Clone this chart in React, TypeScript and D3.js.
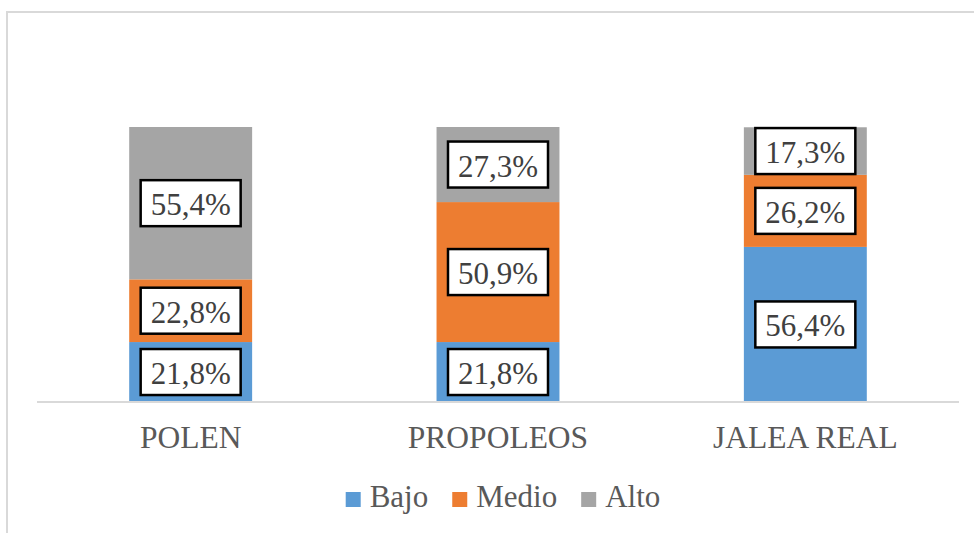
import React from "react";
import * as d3 from "d3";

const categories = ["POLEN", "PROPOLEOS", "JALEA REAL"];
const seriesNames = ["Bajo", "Medio", "Alto"];
const bajo = [21.8, 21.8, 56.4];
const medio = [22.8, 50.9, 26.2];
const alto = [55.4, 27.3, 17.3];
const colors = ["#5b9bd5", "#ed7d31", "#a5a5a5"];

const W = 974;
const H = 533;
const FONT = "Liberation Serif, Times New Roman, serif";

function measure(text: string, size: number): number {
  const c = document.createElement("canvas").getContext("2d");
  if (!c) return text.length * size * 0.5;
  c.font = `${size}px "Liberation Serif", serif`;
  return c.measureText(text).width;
}

export default function App() {
  const rows = categories.map((c, i) => ({ cat: c, Bajo: bajo[i], Medio: medio[i], Alto: alto[i] }));
  const stack = d3.stack<any>().keys(seriesNames)(rows);

  const x = d3.scaleBand().domain(categories).range([37, 959]).paddingInner(0.6).paddingOuter(0.3);
  const y = d3.scaleLinear().domain([0, 100]).range([402, 127]);

  const boxW = 100;
  const boxH = 46;

  const legSize = 31;
  const sq = 15;
  const items = seriesNames.map((n) => ({ n, w: measure(n, legSize) }));
  const total = items.reduce((a, it) => a + sq + 9 + it.w, 0) + 24 * (items.length - 1);
  let lx = 503 - total / 2;
  const legend = items.map((it, i) => {
    const start = lx;
    lx += sq + 9 + it.w + 24;
    return { ...it, x: start, color: colors[i] };
  });

  const textStyle = { fontFamily: FONT };

  return (
    <div style={{ position: "fixed", left: 0, top: 0, width: W, height: H, background: "#fff" }}>
      <svg width={W} height={H} style={{ display: "block" }}>
        <rect x={0} y={0} width={W} height={H} fill="#fff" />
        <rect x={7} y={12} width={W + 10} height={H + 10} fill="none" stroke="#d9d9d9" strokeWidth={2} />
        {stack.map((s, si) =>
          s.map((d, i) => (
            <rect
              key={`${si}-${i}`}
              x={x(categories[i])!}
              y={y(d[1])}
              width={x.bandwidth()}
              height={y(d[0]) - y(d[1])}
              fill={colors[si]}
            />
          ))
        )}
        <line x1={37} x2={959} y1={402} y2={402} stroke="#d9d9d9" strokeWidth={2} />
        {stack.map((s, si) =>
          s.map((d, i) => {
            const cx = x(categories[i])! + x.bandwidth() / 2;
            const cy = (y(d[0]) + y(d[1])) / 2;
            const v = d[1] - d[0];
            return (
              <g key={`l-${si}-${i}`}>
                <rect x={cx - boxW / 2} y={cy - boxH / 2} width={boxW} height={boxH} fill="#fff" stroke="#000" strokeWidth={2.5} />
                <text x={cx} y={cy + 12} textAnchor="middle" style={textStyle} fontSize={31} fill="#404040">
                  {v.toFixed(1).replace(".", ",") + "%"}
                </text>
              </g>
            );
          })
        )}
        {categories.map((c) => (
          <text key={c} x={x(c)! + x.bandwidth() / 2} y={448} textAnchor="middle" style={textStyle} fontSize={31.5} fill="#595959">
            {c}
          </text>
        ))}
        {legend.map((l) => (
          <g key={l.n}>
            <rect x={l.x} y={492} width={sq} height={sq} fill={l.color} />
            <text x={l.x + sq + 9} y={507} style={textStyle} fontSize={legSize} fill="#595959">
              {l.n}
            </text>
          </g>
        ))}
      </svg>
    </div>
  );
}
